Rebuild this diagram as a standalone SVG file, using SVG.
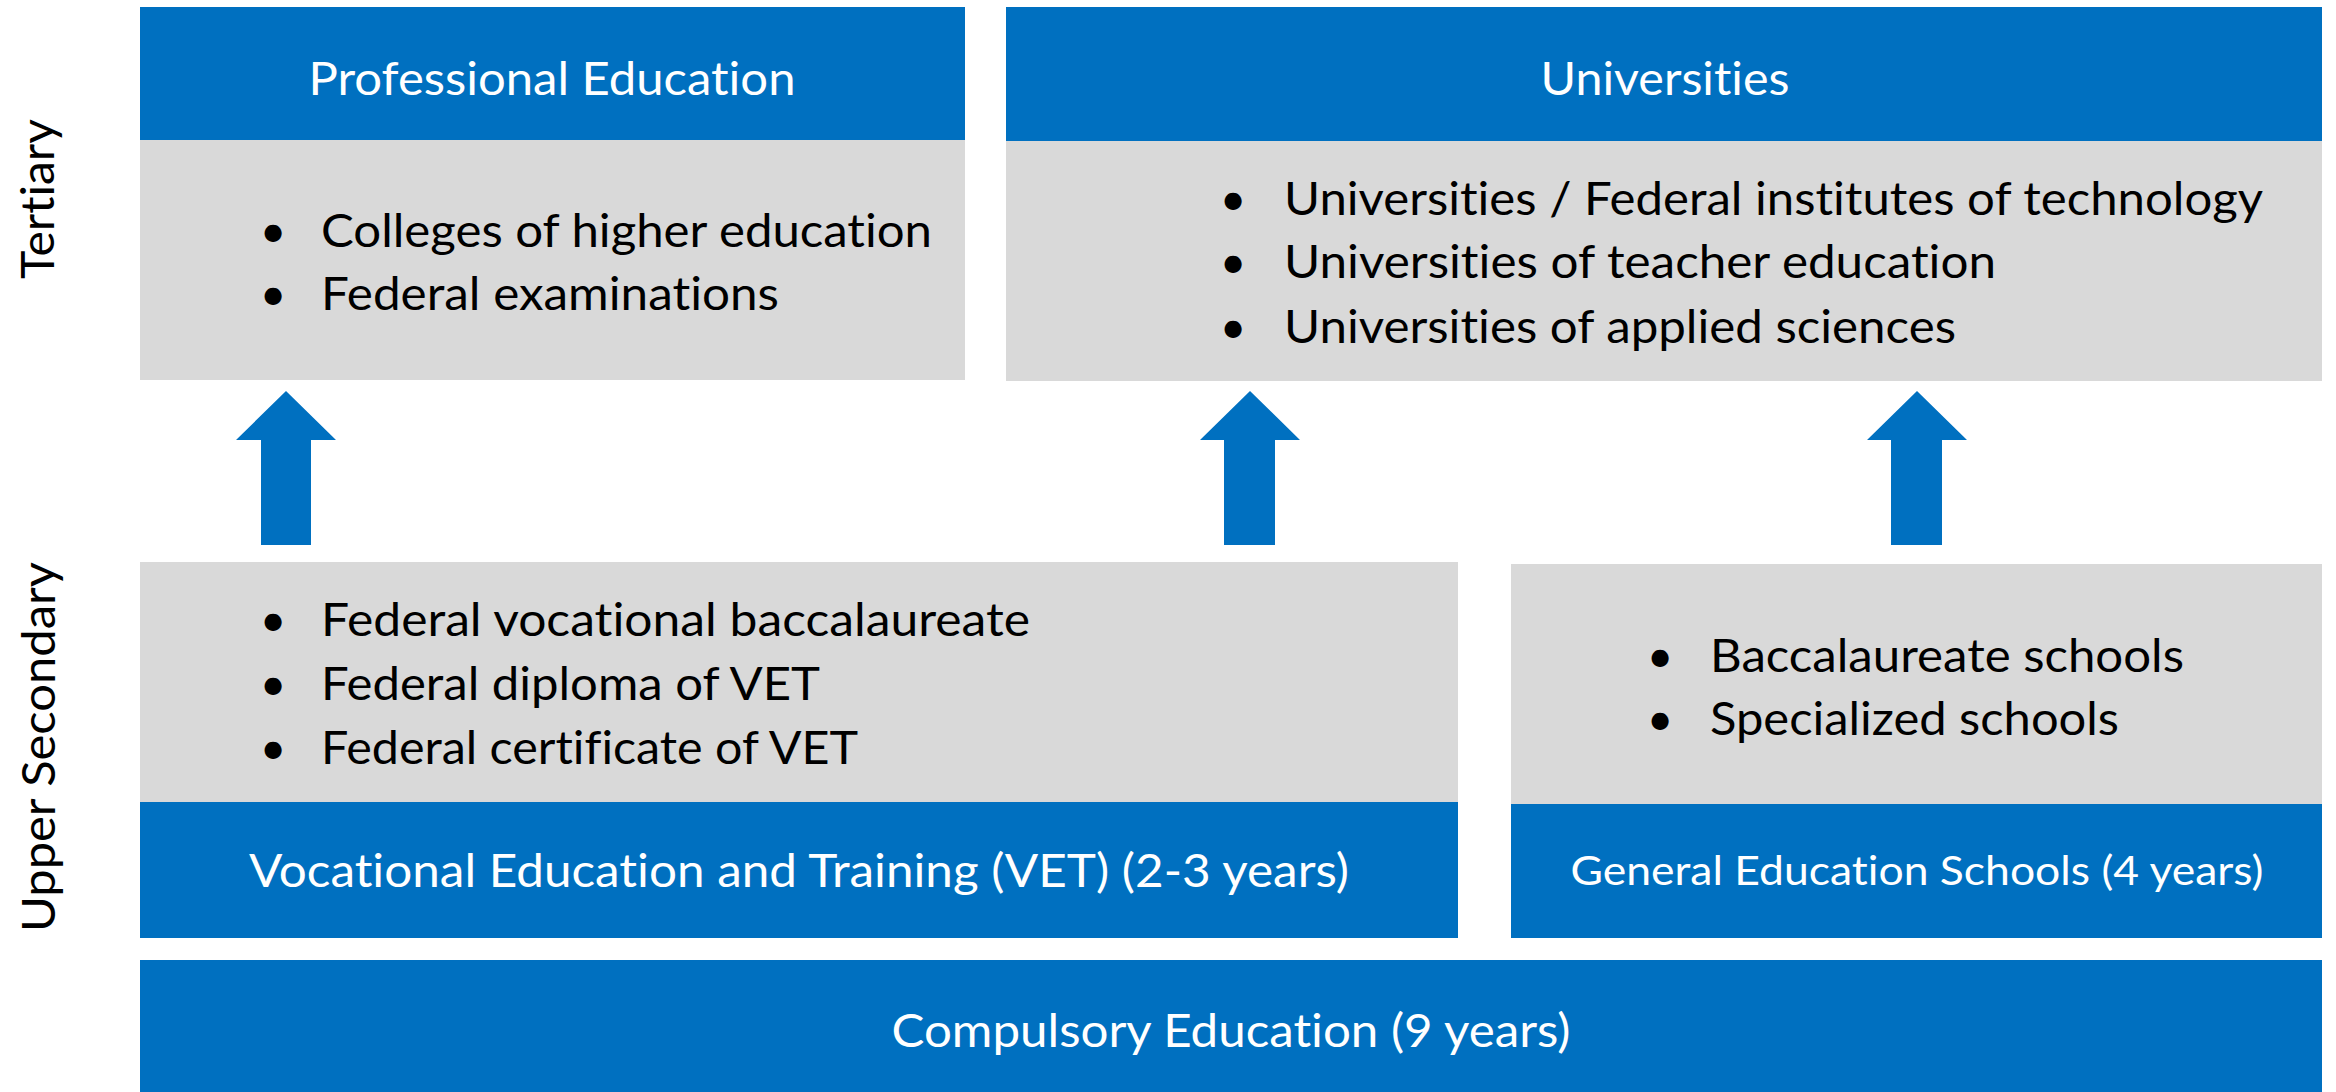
<svg xmlns="http://www.w3.org/2000/svg" width="2336" height="1092" viewBox="0 0 2336 1092">
<style>
.blue{fill:#0070C0}
.gray{fill:#D9D9D9}
text{font-family:Lato,"Liberation Sans",sans-serif;font-size:46px;font-variant-ligatures:none;font-feature-settings:"liga" 0,"clig" 0}
.w{fill:#FFFFFF;text-anchor:middle}
.k{fill:#000000}
.b{fill:#000000;text-anchor:middle}
.lab{fill:#000000;text-anchor:middle}
.arrow{fill:#0070C0}
</style>
<rect width="2336" height="1092" fill="#FFFFFF"/>
<g id="label-tertiary">
<text class="lab" transform="translate(54,199) rotate(-90)" textLength="160" lengthAdjust="spacingAndGlyphs">Tertiary</text>
</g>
<g id="label-upper-secondary">
<text class="lab" transform="translate(55,747) rotate(-90)" textLength="370" lengthAdjust="spacingAndGlyphs">Upper Secondary</text>
</g>
<g id="professional-education">
<rect class="blue" x="140" y="7" width="825" height="133"/>
<rect class="gray" x="140" y="140" width="825" height="240"/>
<text class="w" x="552" y="95" textLength="487" lengthAdjust="spacingAndGlyphs">Professional Education</text>
<text class="b" x="273" y="247">•</text>
<text class="k" x="321" y="247" textLength="611" lengthAdjust="spacingAndGlyphs">Colleges of higher education</text>
<text class="b" x="273" y="310">•</text>
<text class="k" x="321" y="310" textLength="458" lengthAdjust="spacingAndGlyphs">Federal examinations</text>
</g>
<g id="universities">
<rect class="blue" x="1006" y="7" width="1316" height="134"/>
<rect class="gray" x="1006" y="141" width="1316" height="240"/>
<text class="w" x="1665" y="95" textLength="249" lengthAdjust="spacingAndGlyphs">Universities</text>
<text class="b" x="1233" y="215">•</text>
<text class="k" x="1284" y="215" textLength="979" lengthAdjust="spacingAndGlyphs">Universities / Federal institutes of technology</text>
<text class="b" x="1233" y="278">•</text>
<text class="k" x="1284" y="278" textLength="712" lengthAdjust="spacingAndGlyphs">Universities of teacher education</text>
<text class="b" x="1233" y="343">•</text>
<text class="k" x="1284" y="343" textLength="672" lengthAdjust="spacingAndGlyphs">Universities of applied sciences</text>
</g>
<g id="vet">
<rect class="gray" x="140" y="562" width="1318" height="240"/>
<rect class="blue" x="140" y="802" width="1318" height="136"/>
<text class="b" x="273" y="636">•</text>
<text class="k" x="321" y="636" textLength="709" lengthAdjust="spacingAndGlyphs">Federal vocational baccalaureate</text>
<text class="b" x="273" y="700">•</text>
<text class="k" x="321" y="700" textLength="499" lengthAdjust="spacingAndGlyphs">Federal diploma of VET</text>
<text class="b" x="273" y="764">•</text>
<text class="k" x="321" y="764" textLength="537" lengthAdjust="spacingAndGlyphs">Federal certificate of VET</text>
<text class="w" x="799" y="887" textLength="1100" lengthAdjust="spacingAndGlyphs">Vocational Education and Training (VET) (2-3 years)</text>
</g>
<g id="general-education">
<rect class="gray" x="1511" y="564" width="811" height="240"/>
<rect class="blue" x="1511" y="804" width="811" height="134"/>
<text class="b" x="1660" y="672">•</text>
<text class="k" x="1710" y="672" textLength="474" lengthAdjust="spacingAndGlyphs">Baccalaureate schools</text>
<text class="b" x="1660" y="735">•</text>
<text class="k" x="1710" y="735" textLength="409" lengthAdjust="spacingAndGlyphs">Specialized schools</text>
<text class="w" x="1917" y="885" style="font-size:41px" textLength="693" lengthAdjust="spacingAndGlyphs">General Education Schools (4 years)</text>
</g>
<g id="compulsory-education">
<rect class="blue" x="140" y="960" width="2182" height="132"/>
<text class="w" x="1231" y="1047" textLength="679" lengthAdjust="spacingAndGlyphs">Compulsory Education (9 years)</text>
</g>
<g id="connectors">
<polygon class="arrow" points="286,391 336,440 311,440 311,545 261,545 261,440 236,440"/>
<polygon class="arrow" points="1250,391 1300,440 1275,440 1275,545 1224,545 1224,440 1200,440"/>
<polygon class="arrow" points="1917,391 1967,440 1942,440 1942,545 1891,545 1891,440 1867,440"/>
</g>
</svg>
